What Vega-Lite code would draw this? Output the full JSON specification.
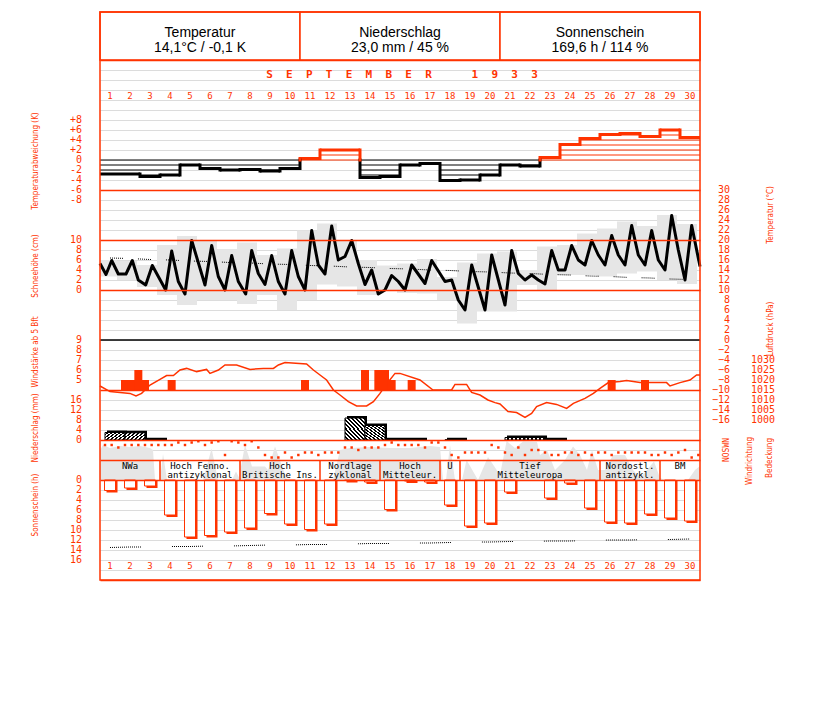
{
"$schema":"https://vega.github.io/schema/vega-lite/v6.json",
"width":600,"height":520,
"autosize":{"type":"none"},
"padding":{"left":100,"top":60,"right":127,"bottom":122},
"background":"white",
"config":{"view":{"stroke":null},"scale":{"continuousPadding":0}},
"datasets":{
"days":[
{"day":1,"anom":-2.8,"sun":2.1,"precip":3.0,"tn":16.4,"sl":13.5,"gmin":12.7,"gmax":16.0},
{"day":2,"anom":-2.8,"sun":1.6,"precip":2.9,"tn":16.3,"sl":13.4,"gmin":12.0,"gmax":15.8},
{"day":3,"anom":-3.3,"sun":1.2,"precip":0.1,"tn":16.1,"sl":13.4,"gmin":10.6,"gmax":15.0},
{"day":4,"anom":-3.0,"sun":7.0,"precip":0,"tn":16.0,"sl":13.3,"gmin":9.0,"gmax":19.0},
{"day":5,"anom":-1.0,"sun":11.4,"precip":0,"tn":15.8,"sl":13.3,"gmin":7.0,"gmax":20.8},
{"day":6,"anom":-1.7,"sun":11.1,"precip":0,"tn":15.7,"sl":13.2,"gmin":8.0,"gmax":20.0},
{"day":7,"anom":-2.0,"sun":10.4,"precip":0,"tn":15.5,"sl":13.2,"gmin":8.0,"gmax":18.2},
{"day":8,"anom":-1.9,"sun":9.6,"precip":0,"tn":15.4,"sl":13.1,"gmin":7.2,"gmax":19.5},
{"day":9,"anom":-2.2,"sun":6.7,"precip":0,"tn":15.2,"sl":13.0,"gmin":9.0,"gmax":17.0},
{"day":10,"anom":-1.7,"sun":8.8,"precip":0,"tn":15.1,"sl":13.0,"gmin":6.0,"gmax":18.3},
{"day":11,"anom":0.3,"sun":9.9,"precip":0,"tn":14.9,"sl":12.9,"gmin":8.0,"gmax":21.9},
{"day":12,"anom":2.0,"sun":8.8,"precip":0,"tn":14.8,"sl":12.9,"gmin":11.1,"gmax":23.3},
{"day":13,"anom":2.0,"sun":0.1,"precip":8.8,"tn":14.6,"sl":12.8,"gmin":10.7,"gmax":20.0},
{"day":14,"anom":-3.5,"sun":0.4,"precip":5.8,"tn":14.5,"sl":12.7,"gmin":9.0,"gmax":16.0},
{"day":15,"anom":-3.3,"sun":5.9,"precip":0.1,"tn":14.3,"sl":12.7,"gmin":10.0,"gmax":14.9},
{"day":16,"anom":-1.0,"sun":0.2,"precip":0.1,"tn":14.2,"sl":12.6,"gmin":9.4,"gmax":15.3},
{"day":17,"anom":-0.7,"sun":0.4,"precip":0,"tn":14.0,"sl":12.6,"gmin":9.3,"gmax":16.2},
{"day":18,"anom":-4.1,"sun":5.0,"precip":0.1,"tn":13.9,"sl":12.5,"gmin":8.0,"gmax":12.6},
{"day":19,"anom":-4.0,"sun":9.2,"precip":0,"tn":13.7,"sl":12.4,"gmin":3.3,"gmax":15.5},
{"day":20,"anom":-3.0,"sun":8.6,"precip":0,"tn":13.6,"sl":12.4,"gmin":5.7,"gmax":17.3},
{"day":21,"anom":-1.0,"sun":2.4,"precip":1.0,"tn":13.4,"sl":12.3,"gmin":5.7,"gmax":17.7},
{"day":22,"anom":-1.2,"sun":0,"precip":1.0,"tn":13.3,"sl":12.3,"gmin":11.0,"gmax":14.0},
{"day":23,"anom":0.5,"sun":3.6,"precip":0.1,"tn":13.1,"sl":12.2,"gmin":10.0,"gmax":18.7},
{"day":24,"anom":3.1,"sun":0.6,"precip":0,"tn":13.0,"sl":12.2,"gmin":13.0,"gmax":19.0},
{"day":25,"anom":4.3,"sun":5.6,"precip":0,"tn":12.8,"sl":12.1,"gmin":13.0,"gmax":21.3},
{"day":26,"anom":5.1,"sun":8.4,"precip":0,"tn":12.7,"sl":12.0,"gmin":12.7,"gmax":22.3},
{"day":27,"anom":5.3,"sun":8.6,"precip":0,"tn":12.5,"sl":12.0,"gmin":13.3,"gmax":23.7},
{"day":28,"anom":4.7,"sun":6.8,"precip":0,"tn":12.4,"sl":11.9,"gmin":13.7,"gmax":22.8},
{"day":29,"anom":6.0,"sun":7.6,"precip":0,"tn":12.2,"sl":11.9,"gmin":12.0,"gmax":25.0},
{"day":30,"anom":4.5,"sun":8.2,"precip":0,"tn":12.1,"sl":11.8,"gmin":11.2,"gmax":23.2}
],
"temp":[{"t":0.5,"temp":15.3},{"t":0.8,"temp":13.1},{"t":1.085,"temp":15.9},{"t":1.415,"temp":13.2},{"t":1.8,"temp":13.2},{"t":2.115,"temp":15.9},{"t":2.415,"temp":12.0},{"t":2.785,"temp":11.0},{"t":3.115,"temp":14.9},{"t":3.415,"temp":12.7},{"t":3.785,"temp":10.0},{"t":4.085,"temp":17.8},{"t":4.415,"temp":11.7},{"t":4.75,"temp":9.2},{"t":5.085,"temp":19.9},{"t":5.75,"temp":11.0},{"t":6.085,"temp":18.9},{"t":6.415,"temp":12.7},{"t":6.75,"temp":10.0},{"t":7.085,"temp":16.9},{"t":7.415,"temp":11.7},{"t":7.785,"temp":9.2},{"t":8.085,"temp":17.9},{"t":8.415,"temp":13.3},{"t":8.75,"temp":11.1},{"t":9.085,"temp":16.9},{"t":9.415,"temp":11.7},{"t":9.75,"temp":9.2},{"t":10.085,"temp":17.9},{"t":10.415,"temp":12.7},{"t":10.75,"temp":10.0},{"t":11.085,"temp":21.9},{"t":11.415,"temp":15.0},{"t":11.75,"temp":13.2},{"t":12.085,"temp":22.8},{"t":12.415,"temp":16.0},{"t":12.75,"temp":16.7},{"t":13.085,"temp":19.9},{"t":13.415,"temp":15.3},{"t":13.75,"temp":11.1},{"t":14.085,"temp":14.0},{"t":14.415,"temp":9.2},{"t":14.75,"temp":10.0},{"t":15.085,"temp":12.9},{"t":15.415,"temp":11.7},{"t":15.75,"temp":10.0},{"t":16.085,"temp":15.0},{"t":16.75,"temp":11.3},{"t":17.085,"temp":15.9},{"t":17.75,"temp":11.7},{"t":18.085,"temp":12.0},{"t":18.415,"temp":8.0},{"t":18.75,"temp":6.0},{"t":19.085,"temp":15.0},{"t":19.75,"temp":6.0},{"t":20.085,"temp":17.0},{"t":20.75,"temp":7.0},{"t":21.085,"temp":17.9},{"t":21.415,"temp":13.3},{"t":21.75,"temp":12.0},{"t":22.085,"temp":13.0},{"t":22.415,"temp":12.0},{"t":22.75,"temp":11.2},{"t":23.085,"temp":17.9},{"t":23.415,"temp":14.0},{"t":23.75,"temp":14.0},{"t":24.085,"temp":18.9},{"t":24.415,"temp":16.0},{"t":24.75,"temp":15.0},{"t":25.085,"temp":19.9},{"t":25.415,"temp":17.0},{"t":25.75,"temp":15.0},{"t":26.085,"temp":20.9},{"t":26.415,"temp":17.0},{"t":26.75,"temp":15.0},{"t":27.085,"temp":22.9},{"t":27.415,"temp":17.0},{"t":27.75,"temp":15.0},{"t":28.085,"temp":21.9},{"t":28.415,"temp":16.0},{"t":28.75,"temp":14.0},{"t":29.085,"temp":24.9},{"t":29.415,"temp":18.0},{"t":29.75,"temp":12.0},{"t":30.085,"temp":22.9},{"t":30.5,"temp":14.7}],
"pres":[{"t":0.5,"p":1017},{"t":1.0,"p":1014.2},{"t":1.5,"p":1013.7},{"t":2.0,"p":1013.3},{"t":2.3,"p":1012.0},{"t":2.58,"p":1013.3},{"t":3.0,"p":1017.5},{"t":3.5,"p":1020.3},{"t":3.83,"p":1022.2},{"t":4.17,"p":1022.2},{"t":4.5,"p":1025.0},{"t":4.83,"p":1025.8},{"t":5.33,"p":1024.2},{"t":5.83,"p":1025.3},{"t":6.0,"p":1023.3},{"t":6.42,"p":1025.0},{"t":6.75,"p":1027.5},{"t":7.33,"p":1027.5},{"t":8.0,"p":1025.3},{"t":8.67,"p":1025.8},{"t":9.17,"p":1025.8},{"t":9.42,"p":1027.5},{"t":9.75,"p":1028.7},{"t":10.83,"p":1028.0},{"t":11.17,"p":1025.0},{"t":11.5,"p":1022.5},{"t":11.83,"p":1020.0},{"t":12.17,"p":1015.0},{"t":12.5,"p":1012.5},{"t":12.92,"p":1009.2},{"t":13.33,"p":1007.0},{"t":13.83,"p":1007.0},{"t":14.17,"p":1009.2},{"t":14.5,"p":1013.3},{"t":14.83,"p":1018.0},{"t":15.25,"p":1023.3},{"t":15.5,"p":1023.3},{"t":16.5,"p":1020.0},{"t":17.15,"p":1015.0},{"t":18.08,"p":1015.0},{"t":18.25,"p":1017.8},{"t":18.83,"p":1017.8},{"t":19.08,"p":1013.8},{"t":19.5,"p":1012.5},{"t":19.9,"p":1010.0},{"t":20.25,"p":1008.7},{"t":20.5,"p":1008.0},{"t":20.9,"p":1004.2},{"t":21.33,"p":1003.7},{"t":21.75,"p":1001.3},{"t":22.08,"p":1003.3},{"t":22.33,"p":1006.7},{"t":22.83,"p":1008.7},{"t":23.33,"p":1007.8},{"t":23.83,"p":1005.8},{"t":24.17,"p":1008.3},{"t":24.75,"p":1010.8},{"t":25.17,"p":1013.3},{"t":25.5,"p":1015.8},{"t":25.92,"p":1018.7},{"t":26.5,"p":1019.2},{"t":26.83,"p":1019.7},{"t":27.5,"p":1018.7},{"t":28.17,"p":1018.7},{"t":28.83,"p":1018.7},{"t":29.0,"p":1017.0},{"t":29.5,"p":1018.7},{"t":30.0,"p":1020.0},{"t":30.33,"p":1022.5},{"t":30.5,"p":1022.5}],
"wind":[{"t":1.75,"bft":5},{"t":2.083,"bft":5},{"t":2.417,"bft":6},{"t":2.75,"bft":5},{"t":4.083,"bft":5},{"t":10.75,"bft":5},{"t":13.75,"bft":6},{"t":14.417,"bft":6},{"t":14.75,"bft":6},{"t":15.083,"bft":5},{"t":16.083,"bft":5},{"t":26.083,"bft":5},{"t":27.75,"bft":5}],
"wdir":[{"t":0.75,"dir":270},{"t":1.083,"dir":270},{"t":1.417,"dir":225},{"t":1.75,"dir":270},{"t":2.083,"dir":270},{"t":2.417,"dir":270},{"t":2.75,"dir":270},{"t":3.083,"dir":270},{"t":3.417,"dir":270},{"t":3.75,"dir":270},{"t":4.083,"dir":270},{"t":4.417,"dir":315},{"t":4.75,"dir":270},{"t":5.083,"dir":315},{"t":5.417,"dir":337.5},{"t":5.75,"dir":270},{"t":6.083,"dir":315},{"t":6.417,"dir":337.5},{"t":6.75,"dir":90},{"t":7.083,"dir":337.5},{"t":7.417,"dir":315},{"t":7.75,"dir":270},{"t":8.083,"dir":337.5},{"t":8.417,"dir":225},{"t":8.75,"dir":90},{"t":9.083,"dir":45},{"t":9.417,"dir":45},{"t":9.75,"dir":135},{"t":10.083,"dir":45},{"t":10.417,"dir":90},{"t":10.75,"dir":135},{"t":11.083,"dir":135},{"t":11.417,"dir":90},{"t":11.75,"dir":135},{"t":12.083,"dir":135},{"t":12.417,"dir":135},{"t":12.75,"dir":225},{"t":13.083,"dir":225},{"t":13.417,"dir":180},{"t":13.75,"dir":225},{"t":14.083,"dir":225},{"t":14.417,"dir":225},{"t":14.75,"dir":270},{"t":15.083,"dir":315},{"t":15.417,"dir":270},{"t":15.75,"dir":270},{"t":16.083,"dir":270},{"t":16.417,"dir":270},{"t":16.75,"dir":225},{"t":17.083,"dir":315},{"t":17.417,"dir":315},{"t":17.75,"dir":225},{"t":18.083,"dir":90},{"t":18.417,"dir":45},{"t":18.75,"dir":135},{"t":19.083,"dir":135},{"t":19.417,"dir":135},{"t":19.75,"dir":135},{"t":20.083,"dir":270},{"t":20.417,"dir":225},{"t":20.75,"dir":135},{"t":21.083,"dir":90},{"t":21.417,"dir":225},{"t":21.75,"dir":90},{"t":22.083,"dir":180},{"t":22.417,"dir":180},{"t":22.75,"dir":135},{"t":23.083,"dir":90},{"t":23.417,"dir":90},{"t":23.75,"dir":135},{"t":24.083,"dir":135},{"t":24.417,"dir":90},{"t":24.75,"dir":135},{"t":25.083,"dir":90},{"t":25.417,"dir":135},{"t":25.75,"dir":135},{"t":26.083,"dir":90},{"t":26.417,"dir":135},{"t":26.75,"dir":135},{"t":27.083,"dir":135},{"t":27.417,"dir":135},{"t":27.75,"dir":135},{"t":28.083,"dir":90},{"t":28.417,"dir":90},{"t":28.75,"dir":135},{"t":29.083,"dir":90},{"t":29.417,"dir":135},{"t":29.75,"dir":180},{"t":30.083,"dir":45},{"t":30.417,"dir":90}],
"cloud":[{"t":0.5,"c":6},{"t":0.65,"c":7},{"t":1.0,"c":6.4},{"t":1.5,"c":6.8},{"t":2.0,"c":6.6},{"t":2.5,"c":6.8},{"t":3.0,"c":6.4},{"t":3.15,"c":6},{"t":3.25,"c":0},{"t":3.5,"c":0},{"t":3.65,"c":5.2},{"t":3.85,"c":0},{"t":5.65,"c":0},{"t":6.08,"c":6.3},{"t":6.4,"c":0},{"t":7.1,"c":0},{"t":7.3,"c":1.7},{"t":7.45,"c":0.5},{"t":7.75,"c":7},{"t":8.1,"c":2.7},{"t":8.75,"c":2.7},{"t":8.9,"c":2},{"t":9.25,"c":6.7},{"t":9.85,"c":0},{"t":12.15,"c":0},{"t":12.5,"c":6},{"t":13.0,"c":6.4},{"t":14.0,"c":6.6},{"t":15.0,"c":6.4},{"t":16.0,"c":6.4},{"t":17.0,"c":6.8},{"t":17.5,"c":6.6},{"t":17.65,"c":0},{"t":17.8,"c":0},{"t":18.0,"c":7},{"t":18.25,"c":0},{"t":18.6,"c":0},{"t":18.83,"c":4},{"t":19.4,"c":0},{"t":19.9,"c":4.6},{"t":20.5,"c":1},{"t":20.83,"c":7.8},{"t":21.25,"c":6.4},{"t":21.65,"c":7.7},{"t":22.35,"c":7.6},{"t":22.5,"c":5},{"t":22.85,"c":6},{"t":23.25,"c":2},{"t":23.75,"c":4},{"t":24.15,"c":6.7},{"t":24.5,"c":5},{"t":24.85,"c":2},{"t":25.1,"c":6},{"t":25.4,"c":2},{"t":25.75,"c":2},{"t":26.15,"c":5},{"t":26.75,"c":5},{"t":27.15,"c":2},{"t":27.5,"c":0.4},{"t":27.85,"c":2},{"t":28.2,"c":3.7},{"t":28.5,"c":0.4},{"t":28.75,"c":0},{"t":29.9,"c":0},{"t":30.25,"c":2},{"t":30.5,"c":2.8}],
"hatch":[{"first":1,"last":10,"level":0,"sign":"neg"},{"first":14,"last":22,"level":0,"sign":"neg"},{"first":1,"last":4,"level":-1,"sign":"neg"},{"first":6,"last":10,"level":-1,"sign":"neg"},{"first":14,"last":15,"level":-1,"sign":"neg"},{"first":18,"last":20,"level":-1,"sign":"neg"},{"first":22,"last":22,"level":-1,"sign":"neg"},{"first":1,"last":4,"level":-2,"sign":"neg"},{"first":9,"last":9,"level":-2,"sign":"neg"},{"first":14,"last":15,"level":-2,"sign":"neg"},{"first":18,"last":20,"level":-2,"sign":"neg"},{"first":3,"last":3,"level":-3,"sign":"neg"},{"first":14,"last":15,"level":-3,"sign":"neg"},{"first":18,"last":19,"level":-3,"sign":"neg"},{"first":11,"last":13,"level":0,"sign":"pos"},{"first":23,"last":30,"level":0,"sign":"pos"},{"first":12,"last":13,"level":1,"sign":"pos"},{"first":24,"last":30,"level":1,"sign":"pos"},{"first":24,"last":30,"level":2,"sign":"pos"},{"first":24,"last":30,"level":3,"sign":"pos"},{"first":25,"last":30,"level":4,"sign":"pos"},{"first":26,"last":27,"level":5,"sign":"pos"},{"first":29,"last":29,"level":5,"sign":"pos"}],
"wlage":[{"first":1,"last":3,"l1":"NWa","l2":""},{"first":4,"last":7,"l1":"Hoch Fenno.","l2":"antizyklonal"},{"first":8,"last":11,"l1":"Hoch","l2":"Britische Ins."},{"first":12,"last":14,"l1":"Nordlage","l2":"zyklonal"},{"first":15,"last":17,"l1":"Hoch","l2":"Mitteleur."},{"first":18,"last":18,"l1":"U","l2":""},{"first":19,"last":25,"l1":"Tief","l2":"Mitteleuropa"},{"first":26,"last":28,"l1":"Nordostl.","l2":"antizykl."},{"first":29,"last":30,"l1":"BM","l2":""}],
"header":[{"first":1,"last":10,"title":"Temperatur","val":"14,1°C / -0,1 K"},{"first":11,"last":20,"title":"Niederschlag","val":"23,0 mm / 45 %"},{"first":21,"last":30,"title":"Sonnenschein","val":"169,6 h / 114 %"}]
},
"resolve":{"scale":{"y":"independent"}},
"layer":[
{"data":{"name":"days"},"mark":{"type":"bar","size":20,"xOffset":-3,"color":"#e6e6e6","clip":true},
 "encoding":{"x":{"field":"day","type":"quantitative","scale":{"domain":[0.5,30.5]},"axis":{"values":[1.5,2.5,3.5,4.5,5.5,6.5,7.5,8.5,9.5,10.5,11.5,12.5,13.5,14.5,15.5,16.5,17.5,18.5,19.5,20.5,21.5,22.5,23.5,24.5,25.5,26.5,27.5,28.5,29.5],"grid":true,"gridColor":"#dcdcdc","labels":false,"ticks":false,"domain":false,"title":null}},
 "y":{"field":"gmin","type":"quantitative","scale":{"domain":[-48,56]},"axis":{"values":[-46,-44,-42,-40,-38,-36,-34,-32,-30,-28,-26,-24,-22,-20,-18,-16,-14,-12,-10,-8,-6,-4,-2,0,2,4,6,8,10,12,14,16,18,20,22,24,26,28,30,32,34,36,38,40,42,44,46,48,50,52,54],"grid":true,"gridColor":"#dcdcdc","labels":false,"ticks":false,"domain":false,"title":null}},
 "y2":{"field":"gmax"}}},
{"data":{"values":[{}]},"mark":{"type":"rect","color":"white"},
 "encoding":{"x":{"datum":0.5,"type":"quantitative","scale":{"domain":[0.5,30.5]},"axis":null},"x2":{"datum":30.5},"y":{"datum":-24,"type":"quantitative","scale":{"domain":[-48,56]},"axis":null},"y2":{"datum":-28}}},
{"data":{"name":"cloud"},"mark":{"type":"area","color":"#e6e6e6"},
 "encoding":{"x":{"field":"t","type":"quantitative","scale":{"domain":[0.5,30.5]},"axis":null},"y":{"field":"c","type":"quantitative","scale":{"domain":[-20,84]},"axis":null},"y2":{"datum":0}}},
{"data":{"name":"hatch"},"transform":[{"calculate":"datum.first - 0.5","as":"x0"},{"calculate":"datum.last + 0.5","as":"x1"}],
 "mark":{"type":"rule","strokeWidth":1},
 "encoding":{"x":{"field":"x0","type":"quantitative","scale":{"domain":[0.5,30.5]},"axis":null},"x2":{"field":"x1"},"y":{"field":"level","type":"quantitative","scale":{"domain":[-84,20]},"axis":null},
 "color":{"field":"sign","type":"nominal","scale":{"domain":["neg","pos"],"range":["#000000","#ff3300"]},"legend":null}}},
{"data":{"name":"days"},"mark":{"type":"tick","orient":"horizontal","size":20,"thickness":3,"opacity":1},
 "encoding":{"x":{"field":"day","type":"quantitative","scale":{"domain":[0.5,30.5]},"axis":null},"y":{"field":"anom","type":"quantitative","scale":{"domain":[-84,20]},"axis":null},
 "color":{"condition":{"test":"datum.anom < 0","value":"#000000"},"value":"#ff3300"}}},
{"data":{"name":"days"},"transform":[{"window":[{"op":"lag","field":"anom","as":"prev"}],"sort":[{"field":"day","order":"ascending"}]},{"filter":"datum.prev != null"},{"calculate":"min(min(datum.prev, datum.anom), 0)","as":"b1"},{"calculate":"min(max(datum.prev, datum.anom), 0)","as":"b2"},{"filter":"datum.b2 > datum.b1"}],
 "mark":{"type":"rule","strokeWidth":3,"color":"#000000","xOffset":-10,"strokeCap":"square"},
 "encoding":{"x":{"field":"day","type":"quantitative","scale":{"domain":[0.5,30.5]},"axis":null},"y":{"field":"b1","type":"quantitative","scale":{"domain":[-84,20]},"axis":null},"y2":{"field":"b2"}}},
{"data":{"name":"days"},"transform":[{"window":[{"op":"lag","field":"anom","as":"prev"}],"sort":[{"field":"day","order":"ascending"}]},{"filter":"datum.prev != null"},{"calculate":"max(min(datum.prev, datum.anom), 0)","as":"r1"},{"calculate":"max(max(datum.prev, datum.anom), 0)","as":"r2"},{"filter":"datum.r2 > datum.r1"}],
 "mark":{"type":"rule","strokeWidth":3,"color":"#ff3300","xOffset":-10,"strokeCap":"square"},
 "encoding":{"x":{"field":"day","type":"quantitative","scale":{"domain":[0.5,30.5]},"axis":null},"y":{"field":"r1","type":"quantitative","scale":{"domain":[-84,20]},"axis":null},"y2":{"field":"r2"}}},
{"data":{"name":"days"},"mark":{"type":"line","color":"#000000","strokeWidth":1,"strokeDash":[1,1,1,1,1,1,1,1,1,1,1,1,1,15]},
 "encoding":{"x":{"field":"day","type":"quantitative","scale":{"domain":[0.5,30.5]},"axis":null},"y":{"field":"tn","type":"quantitative","scale":{"domain":[-48,56]},"axis":null}}},
{"data":{"name":"temp"},"mark":{"type":"line","color":"#000000","strokeWidth":3,"strokeJoin":"round"},
 "encoding":{"x":{"field":"t","type":"quantitative","scale":{"domain":[0.5,30.5]},"axis":null},"y":{"field":"temp","type":"quantitative","scale":{"domain":[-48,56]},"axis":{"values":[56,30,20,10,-10,-20,-24,-28,-48],"grid":true,"gridColor":"#ff3300","gridWidth":1.5,"zindex":1,"labels":false,"ticks":false,"domain":false,"title":null}}}},
{"data":{"name":"pres"},"mark":{"type":"line","color":"#ff3300","strokeWidth":1.5},
 "encoding":{"x":{"field":"t","type":"quantitative","scale":{"domain":[0.5,30.5]},"axis":null},"y":{"field":"p","type":"quantitative","scale":{"domain":[920,1180]},"axis":null}}},
{"data":{"name":"wind"},"mark":{"type":"bar","size":8,"color":"#ff3300"},
 "encoding":{"x":{"field":"t","type":"quantitative","scale":{"domain":[0.5,30.5]},"axis":null},"y":{"field":"bft","type":"quantitative","scale":{"domain":[-15,37]},"axis":null},"y2":{"datum":4}}},
{"data":{"name":"days"},"transform":[{"filter":"datum.precip > 0"}],"mark":{"type":"bar","size":20,"xOffset":7,"yOffset":-2,"color":"#000000"},
 "encoding":{"x":{"field":"day","type":"quantitative","scale":{"domain":[0.5,30.5]},"axis":null},"y":{"field":"precip","type":"quantitative","scale":{"domain":[-56,152]},"axis":null},"y2":{"datum":0}}},
{"data":{"name":"days"},"transform":[{"filter":"datum.precip > 0"}],"mark":{"type":"bar","size":20,"xOffset":5,"stroke":"#000000","strokeWidth":1,
 "fill":{"gradient":"linear","x1":0,"y1":1,"x2":1,"y2":0,"stops":[{"offset":0,"color":"#ffffff"},{"offset":0.05,"color":"#ffffff"},{"offset":0.05,"color":"#000000"},{"offset":0.1,"color":"#000000"},{"offset":0.1,"color":"#ffffff"},{"offset":0.15,"color":"#ffffff"},{"offset":0.15,"color":"#000000"},{"offset":0.2,"color":"#000000"},{"offset":0.2,"color":"#ffffff"},{"offset":0.25,"color":"#ffffff"},{"offset":0.25,"color":"#000000"},{"offset":0.3,"color":"#000000"},{"offset":0.3,"color":"#ffffff"},{"offset":0.35,"color":"#ffffff"},{"offset":0.35,"color":"#000000"},{"offset":0.4,"color":"#000000"},{"offset":0.4,"color":"#ffffff"},{"offset":0.45,"color":"#ffffff"},{"offset":0.45,"color":"#000000"},{"offset":0.5,"color":"#000000"},{"offset":0.5,"color":"#ffffff"},{"offset":0.55,"color":"#ffffff"},{"offset":0.55,"color":"#000000"},{"offset":0.6,"color":"#000000"},{"offset":0.6,"color":"#ffffff"},{"offset":0.65,"color":"#ffffff"},{"offset":0.65,"color":"#000000"},{"offset":0.7,"color":"#000000"},{"offset":0.7,"color":"#ffffff"},{"offset":0.75,"color":"#ffffff"},{"offset":0.75,"color":"#000000"},{"offset":0.8,"color":"#000000"},{"offset":0.8,"color":"#ffffff"},{"offset":0.85,"color":"#ffffff"},{"offset":0.85,"color":"#000000"},{"offset":0.9,"color":"#000000"},{"offset":0.9,"color":"#ffffff"},{"offset":0.95,"color":"#ffffff"},{"offset":0.95,"color":"#000000"},{"offset":1,"color":"#000000"}]}},
 "encoding":{"x":{"field":"day","type":"quantitative","scale":{"domain":[0.5,30.5]},"axis":null},"y":{"field":"precip","type":"quantitative","scale":{"domain":[-56,152]},"axis":null},"y2":{"datum":0}}},
{"data":{"name":"wdir"},"mark":{"type":"square","size":6,"color":"#ff3300","opacity":1},
 "encoding":{"x":{"field":"t","type":"quantitative","scale":{"domain":[0.5,30.5]},"axis":null},"y":{"field":"dir","type":"quantitative","scale":{"domain":[-2160,7200]},"axis":null}}},
{"data":{"name":"days"},"transform":[{"filter":"datum.sun > 0"}],"mark":{"type":"bar","size":11,"xOffset":2,"yOffset":2,"color":"#ff3300"},
 "encoding":{"x":{"field":"day","type":"quantitative","scale":{"domain":[0.5,30.5]},"axis":null},"y":{"field":"sun","type":"quantitative","scale":{"domain":[-84,20],"reverse":true},"axis":null},"y2":{"datum":0}}},
{"data":{"name":"days"},"transform":[{"filter":"datum.sun > 0"}],"mark":{"type":"bar","size":11,"fill":"#ffffff","stroke":"#ff3300","strokeWidth":1},
 "encoding":{"x":{"field":"day","type":"quantitative","scale":{"domain":[0.5,30.5]},"axis":null},"y":{"field":"sun","type":"quantitative","scale":{"domain":[-84,20],"reverse":true},"axis":null},"y2":{"datum":0}}},
{"data":{"name":"days"},"mark":{"type":"line","color":"#000000","strokeWidth":1,"strokeDash":[1,1,1,1,1,1,1,1,1,1,1,1,1,1,1,1,1,1,1,1,1,1,1,1,1,1,1,1,1,1,1,31]},
 "encoding":{"x":{"field":"day","type":"quantitative","scale":{"domain":[0.5,30.5]},"axis":null},"y":{"field":"sl","type":"quantitative","scale":{"domain":[-84,20],"reverse":true},"axis":null}}},
{"data":{"name":"wlage"},"transform":[{"filter":"datum.last < 30"},{"calculate":"datum.last + 0.5","as":"xe"}],"mark":{"type":"rule","color":"#ff3300","strokeWidth":1.5},
 "encoding":{"x":{"field":"xe","type":"quantitative","scale":{"domain":[0.5,30.5]},"axis":null},"y":{"datum":-24,"type":"quantitative","scale":{"domain":[-48,56]},"axis":null},"y2":{"datum":-28}}},
{"data":{"name":"wlage"},"transform":[{"calculate":"(datum.first + datum.last) / 2","as":"mid"}],"mark":{"type":"text","font":"DejaVu Sans Mono","fontSize":9,"color":"#000000","align":"center","baseline":"middle"},
 "encoding":{"x":{"field":"mid","type":"quantitative","scale":{"domain":[0.5,30.5]},"axis":null},"y":{"datum":-25.2,"type":"quantitative","scale":{"domain":[-48,56]},"axis":null},"text":{"field":"l1"}}},
{"data":{"name":"wlage"},"transform":[{"calculate":"(datum.first + datum.last) / 2","as":"mid"}],"mark":{"type":"text","font":"DejaVu Sans Mono","fontSize":9,"color":"#000000","align":"center","baseline":"middle"},
 "encoding":{"x":{"field":"mid","type":"quantitative","scale":{"domain":[0.5,30.5]},"axis":null},"y":{"datum":-27,"type":"quantitative","scale":{"domain":[-48,56]},"axis":null},"text":{"field":"l2"}}},
{"data":{"values":[{}]},"mark":{"type":"rule","color":"#000000","strokeWidth":1.5},
 "encoding":{"x":{"datum":0.5,"type":"quantitative","scale":{"domain":[0.5,30.5]},"axis":null},"x2":{"datum":30.5},"y":{"datum":0,"type":"quantitative","scale":{"domain":[-48,56]},"axis":null}}},
{"data":{"name":"header"},"transform":[{"calculate":"datum.first - 0.5","as":"x0"},{"calculate":"datum.last + 0.5","as":"x1"}],"mark":{"type":"rect","fill":"#ffffff","stroke":"#ff3300","strokeWidth":1.5},
 "encoding":{"x":{"field":"x0","type":"quantitative","scale":{"domain":[0.5,30.5]},"axis":null},"x2":{"field":"x1"},"y":{"datum":65.6,"type":"quantitative","scale":{"domain":[-48,56]},"axis":null},"y2":{"datum":56}}},
{"data":{"name":"header"},"transform":[{"calculate":"(datum.first + datum.last) / 2","as":"mid"}],"mark":{"type":"text","font":"Liberation Sans","fontSize":14,"color":"#000000","align":"center","baseline":"middle"},
 "encoding":{"x":{"field":"mid","type":"quantitative","scale":{"domain":[0.5,30.5]},"axis":null},"y":{"datum":61.4,"type":"quantitative","scale":{"domain":[-48,56]},"axis":null},"text":{"field":"title"}}},
{"data":{"name":"header"},"transform":[{"calculate":"(datum.first + datum.last) / 2","as":"mid"}],"mark":{"type":"text","font":"Liberation Sans","fontSize":14,"color":"#000000","align":"center","baseline":"middle"},
 "encoding":{"x":{"field":"mid","type":"quantitative","scale":{"domain":[0.5,30.5]},"axis":null},"y":{"datum":58.5,"type":"quantitative","scale":{"domain":[-48,56]},"axis":null},"text":{"field":"val"}}},
{"data":{"values":[{}]},"mark":{"type":"text","text":"S\u00a0\u00a0E\u00a0\u00a0P\u00a0\u00a0T\u00a0\u00a0E\u00a0\u00a0M\u00a0\u00a0B\u00a0\u00a0E\u00a0\u00a0R\u00a0\u00a0\u00a0\u00a0\u00a0\u00a01\u00a0\u00a09\u00a0\u00a03\u00a0\u00a03","font":"DejaVu Sans Mono","fontSize":11,"fontWeight":"bold","color":"#ff3300","align":"center","baseline":"middle"},
 "encoding":{"x":{"datum":15.6,"type":"quantitative","scale":{"domain":[0.5,30.5]},"axis":null},"y":{"datum":53,"type":"quantitative","scale":{"domain":[-48,56]},"axis":null}}},
{"data":{"name":"days"},"mark":{"type":"text","font":"DejaVu Sans Mono","fontSize":9,"color":"#ff3300","align":"center","baseline":"middle"},
 "encoding":{"x":{"field":"day","type":"quantitative","scale":{"domain":[0.5,30.5]},"axis":null},"y":{"datum":48.8,"type":"quantitative","scale":{"domain":[-48,56]},"axis":null},"text":{"field":"day","type":"quantitative"}}},
{"data":{"name":"days"},"mark":{"type":"text","font":"DejaVu Sans Mono","fontSize":9,"color":"#ff3300","align":"center","baseline":"middle"},
 "encoding":{"x":{"field":"day","type":"quantitative","scale":{"domain":[0.5,30.5]},"axis":null},"y":{"datum":-45.2,"type":"quantitative","scale":{"domain":[-48,56]},"axis":null},"text":{"field":"day","type":"quantitative"}}},
{"data":{"values":[{"v":8,"s":"+8"},{"v":6,"s":"+6"},{"v":4,"s":"+4"},{"v":2,"s":"+2"},{"v":0,"s":"0"},{"v":-2,"s":"-2"},{"v":-4,"s":"-4"},{"v":-6,"s":"-6"},{"v":-8,"s":"-8"}]},
 "mark":{"type":"text","font":"DejaVu Sans Mono","fontSize":10,"color":"#ff3300","align":"right","baseline":"middle"},
 "encoding":{"x":{"datum":-0.4,"type":"quantitative","scale":{"domain":[0.5,30.5]},"axis":null},"y":{"field":"v","type":"quantitative","scale":{"domain":[-84,20]},"axis":null},"text":{"field":"s"}}},
{"data":{"values":[{"v":10},{"v":8},{"v":6},{"v":4},{"v":2},{"v":0}]},
 "mark":{"type":"text","font":"DejaVu Sans Mono","fontSize":10,"color":"#ff3300","align":"right","baseline":"middle"},
 "encoding":{"x":{"datum":-0.4,"type":"quantitative","scale":{"domain":[0.5,30.5]},"axis":null},"y":{"field":"v","type":"quantitative","scale":{"domain":[-58,46]},"axis":null},"text":{"field":"v","type":"quantitative"}}},
{"data":{"values":[{"v":9},{"v":8},{"v":7},{"v":6},{"v":5}]},
 "mark":{"type":"text","font":"DejaVu Sans Mono","fontSize":10,"color":"#ff3300","align":"right","baseline":"middle"},
 "encoding":{"x":{"datum":-0.4,"type":"quantitative","scale":{"domain":[0.5,30.5]},"axis":null},"y":{"field":"v","type":"quantitative","scale":{"domain":[-15,37]},"axis":null},"text":{"field":"v","type":"quantitative"}}},
{"data":{"values":[{"v":16},{"v":12},{"v":8},{"v":4},{"v":0}]},
 "mark":{"type":"text","font":"DejaVu Sans Mono","fontSize":10,"color":"#ff3300","align":"right","baseline":"middle"},
 "encoding":{"x":{"datum":-0.4,"type":"quantitative","scale":{"domain":[0.5,30.5]},"axis":null},"y":{"field":"v","type":"quantitative","scale":{"domain":[-56,152]},"axis":null},"text":{"field":"v","type":"quantitative"}}},
{"data":{"values":[{"v":0},{"v":2},{"v":4},{"v":6},{"v":8},{"v":10},{"v":12},{"v":14},{"v":16}]},
 "mark":{"type":"text","font":"DejaVu Sans Mono","fontSize":10,"color":"#ff3300","align":"right","baseline":"middle"},
 "encoding":{"x":{"datum":-0.4,"type":"quantitative","scale":{"domain":[0.5,30.5]},"axis":null},"y":{"field":"v","type":"quantitative","scale":{"domain":[-84,20],"reverse":true},"axis":null},"text":{"field":"v","type":"quantitative"}}},
{"data":{"values":[{"v":30},{"v":28},{"v":26},{"v":24},{"v":22},{"v":20},{"v":18},{"v":16},{"v":14},{"v":12},{"v":10},{"v":8},{"v":6},{"v":4},{"v":2},{"v":0},{"v":-2},{"v":-4},{"v":-6},{"v":-8},{"v":-10},{"v":-12},{"v":-14},{"v":-16}]},
 "mark":{"type":"text","font":"DejaVu Sans Mono","fontSize":10,"color":"#ff3300","align":"right","baseline":"middle"},
 "encoding":{"x":{"datum":32.0,"type":"quantitative","scale":{"domain":[0.5,30.5]},"axis":null},"y":{"field":"v","type":"quantitative","scale":{"domain":[-48,56]},"axis":null},"text":{"field":"v","type":"quantitative"}}},
{"data":{"values":[{"v":1030},{"v":1025},{"v":1020},{"v":1015},{"v":1010},{"v":1005},{"v":1000}]},
 "mark":{"type":"text","font":"DejaVu Sans Mono","fontSize":10,"color":"#ff3300","align":"right","baseline":"middle"},
 "encoding":{"x":{"datum":34.25,"type":"quantitative","scale":{"domain":[0.5,30.5]},"axis":null},"y":{"field":"v","type":"quantitative","scale":{"domain":[920,1180]},"axis":null},"text":{"field":"v","type":"quantitative"}}},
{"data":{"values":[{}]},"mark":{"type":"text","text":"Temperaturabweichung (K)","angle":270,"font":"DejaVu Sans Condensed","fontSize":8,"color":"#ff3300","align":"center","baseline":"middle"},
 "encoding":{"x":{"datum":-2.7,"type":"quantitative","scale":{"domain":[0.5,30.5]},"axis":null},"y":{"datum":35.8,"type":"quantitative","scale":{"domain":[-48,56]},"axis":null}}},
{"data":{"values":[{}]},"mark":{"type":"text","text":"Schneehöhe (cm)","angle":270,"font":"DejaVu Sans Condensed","fontSize":8,"color":"#ff3300","align":"center","baseline":"middle"},
 "encoding":{"x":{"datum":-2.7,"type":"quantitative","scale":{"domain":[0.5,30.5]},"axis":null},"y":{"datum":14.8,"type":"quantitative","scale":{"domain":[-48,56]},"axis":null}}},
{"data":{"values":[{}]},"mark":{"type":"text","text":"Windstärke ab 5 Bft","angle":270,"font":"DejaVu Sans Condensed","fontSize":8,"color":"#ff3300","align":"center","baseline":"middle"},
 "encoding":{"x":{"datum":-2.7,"type":"quantitative","scale":{"domain":[0.5,30.5]},"axis":null},"y":{"datum":-2.4,"type":"quantitative","scale":{"domain":[-48,56]},"axis":null}}},
{"data":{"values":[{}]},"mark":{"type":"text","text":"Niederschlag (mm)","angle":270,"font":"DejaVu Sans Condensed","fontSize":8,"color":"#ff3300","align":"center","baseline":"middle"},
 "encoding":{"x":{"datum":-2.7,"type":"quantitative","scale":{"domain":[0.5,30.5]},"axis":null},"y":{"datum":-17.6,"type":"quantitative","scale":{"domain":[-48,56]},"axis":null}}},
{"data":{"values":[{}]},"mark":{"type":"text","text":"Sonnenschein (h)","angle":270,"font":"DejaVu Sans Condensed","fontSize":8,"color":"#ff3300","align":"center","baseline":"middle"},
 "encoding":{"x":{"datum":-2.7,"type":"quantitative","scale":{"domain":[0.5,30.5]},"axis":null},"y":{"datum":-33,"type":"quantitative","scale":{"domain":[-48,56]},"axis":null}}},
{"data":{"values":[{}]},"mark":{"type":"text","text":"Temperatur (°C)","angle":270,"font":"DejaVu Sans Condensed","fontSize":8,"color":"#ff3300","align":"center","baseline":"middle"},
 "encoding":{"x":{"datum":34.05,"type":"quantitative","scale":{"domain":[0.5,30.5]},"axis":null},"y":{"datum":25,"type":"quantitative","scale":{"domain":[-48,56]},"axis":null}}},
{"data":{"values":[{}]},"mark":{"type":"text","text":"Luftdruck (hPa)","angle":270,"font":"DejaVu Sans Condensed","fontSize":8,"color":"#ff3300","align":"center","baseline":"middle"},
 "encoding":{"x":{"datum":34.05,"type":"quantitative","scale":{"domain":[0.5,30.5]},"axis":null},"y":{"datum":2.2,"type":"quantitative","scale":{"domain":[-48,56]},"axis":null}}},
{"data":{"values":[{}]},"mark":{"type":"text","text":"Windrichtung","angle":270,"font":"DejaVu Sans Condensed","fontSize":8,"color":"#ff3300","align":"center","baseline":"middle"},
 "encoding":{"x":{"datum":33.0,"type":"quantitative","scale":{"domain":[0.5,30.5]},"axis":null},"y":{"datum":-24.2,"type":"quantitative","scale":{"domain":[-48,56]},"axis":null}}},
{"data":{"values":[{}]},"mark":{"type":"text","text":"Bedeckung","angle":270,"font":"DejaVu Sans Condensed","fontSize":8,"color":"#ff3300","align":"center","baseline":"middle"},
 "encoding":{"x":{"datum":34.0,"type":"quantitative","scale":{"domain":[0.5,30.5]},"axis":null},"y":{"datum":-23.6,"type":"quantitative","scale":{"domain":[-48,56]},"axis":null}}},
{"data":{"values":[{}]},"mark":{"type":"text","text":"NOSWN","angle":270,"font":"DejaVu Sans Mono","fontSize":8,"color":"#ff3300","align":"center","baseline":"middle"},
 "encoding":{"x":{"datum":31.85,"type":"quantitative","scale":{"domain":[0.5,30.5]},"axis":null},"y":{"datum":-22,"type":"quantitative","scale":{"domain":[-48,56]},"axis":null}}},
{"data":{"values":[{}]},"mark":{"type":"rect","fillOpacity":0,"stroke":"#ff3300","strokeWidth":1.5},
 "encoding":{"x":{"datum":0.5,"type":"quantitative","scale":{"domain":[0.5,30.5]},"axis":null},"x2":{"datum":30.5},"y":{"datum":65.6,"type":"quantitative","scale":{"domain":[-48,56]},"axis":null},"y2":{"datum":-48}}}
]
}
